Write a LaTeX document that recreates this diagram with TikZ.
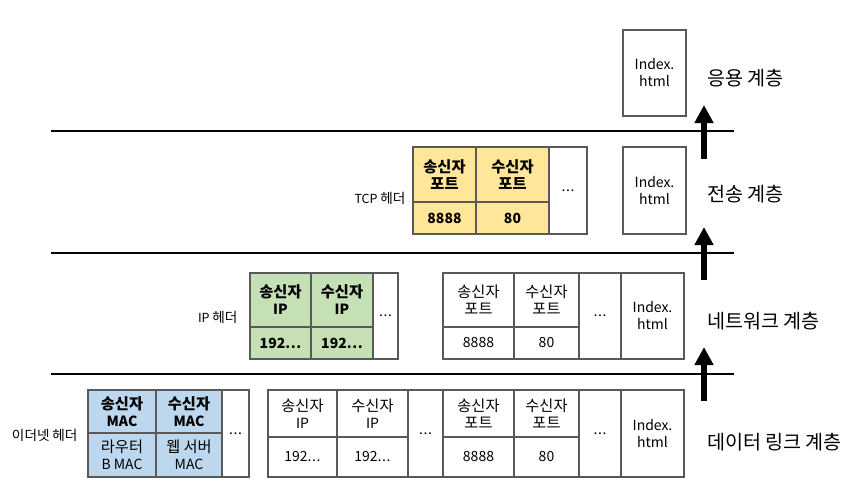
\documentclass[tikz,border=0pt]{standalone}
\usepackage{fontspec}
\setmainfont{Noto Sans CJK KR}
\newfontfamily\hangulfont{Noto Sans CJK KR}[Scale=1.09]
\XeTeXinterchartokenstate=1
\newXeTeXintercharclass\HangulClass
\count255="AC00
\loop
  \XeTeXcharclass\count255=\HangulClass
  \ifnum\count255<"D7A3 \advance\count255 by 1 \repeat
\XeTeXinterchartoks 0 \HangulClass = {\hangulfont}
\XeTeXinterchartoks 4095 \HangulClass = {\hangulfont}
\XeTeXinterchartoks \HangulClass 0 = {\rmfamily}
\XeTeXinterchartoks \HangulClass 4095 = {\rmfamily}
\usetikzlibrary{arrows.meta}
\definecolor{hdrYellow}{HTML}{FFE699}
\definecolor{hdrGreen}{HTML}{C5E0B4}
\definecolor{hdrBlue}{HTML}{BDD7EE}
\definecolor{cellLine}{HTML}{595959}
\begin{document}
\begin{tikzpicture}[x=1pt,y=-1pt]
\tikzset{
    pktCell/.style={rectangle,draw=cellLine,line width=1.2pt,anchor=north west,inner sep=0pt,outer sep=0pt,align=center,font=\fontsize{14}{17}\selectfont},
    pktBold/.style={pktCell,font=\fontsize{14}{17}\selectfont\bfseries},
    hdrName/.style={anchor=east,font=\fontsize{12.5}{15}\selectfont},
    layerName/.style={anchor=west,font=\fontsize{18}{21}\selectfont},
    layerLine/.style={line width=2.2pt},
    upArrow/.style={line width=5.5pt,-{Triangle[length=18pt,width=18pt]}},
}
\useasboundingbox (0,0) rectangle (859,487);

% layer borders
\coordinate (l1a) at (51,131); \coordinate (l1b) at (734,131);
\coordinate (l2a) at (51,253); \coordinate (l2b) at (734,253);
\coordinate (l3a) at (51,374); \coordinate (l3b) at (734,374);
\draw[layerLine] (l1a) -- (l1b);
\draw[layerLine] (l2a) -- (l2b);
\draw[layerLine] (l3a) -- (l3b);

% payload boxes
\foreach \n/\x/\y/\h in {appData/623/30/86, tcpData/623/147/87, ipData/621/273/86, ethData/621/390/87} {
    \node[pktCell,minimum width=63pt,minimum height=\h pt] (\n) at (\x,\y) {Index.\\html};
}

% "..." boxes
\foreach \n/\x/\y/\w/\h in {
    tcpEtc/549/147/38/87, ipEtc/373/273/25/86, ipTcpEtc/579/273/42/86,
    ethEtc/222/390/27/87, ethIpEtc/408/390/35/87, ethTcpEtc/579/390/42/87
} {
    \node[pktCell,minimum width=\w pt,minimum height=\h pt] (\n) at (\x,\y) {.\kern0.6pt.\kern0.6pt.};
}

% transport layer
\foreach \n/\x/\y/\w/\h/\a/\b in {tcpSrc/413/147/63/55/송신자/포트, tcpDst/476/147/73/55/수신자/포트} {
    \node[pktBold,fill=hdrYellow,minimum width=\w pt,minimum height=\h pt] (\n) at (\x,\y) {\a\\\b};
}
\foreach \n/\x/\y/\w/\h/\t in {tcpSrcV/413/202/63/32/8888, tcpDstV/476/202/73/32/80} {
    \node[pktBold,fill=hdrYellow,minimum width=\w pt,minimum height=\h pt] (\n) at (\x,\y) {\t};
}

% network layer
\foreach \n/\x/\y/\w/\h/\a/\b in {ipSrc/250/273/61/54/송신자/IP, ipDst/311/273/62/54/수신자/IP} {
    \node[pktBold,fill=hdrGreen,minimum width=\w pt,minimum height=\h pt] (\n) at (\x,\y) {\a\\\b};
}
\foreach \n/\x/\y/\w/\h in {ipSrcV/250/327/61/32, ipDstV/311/327/62/32} {
    \node[pktBold,fill=hdrGreen,minimum width=\w pt,minimum height=\h pt] (\n) at (\x,\y) {192.\kern0.6pt.\kern0.6pt.};
}
\foreach \n/\x/\y/\w/\h/\a/\b in {ipTcpSrc/443/273/71/54/송신자/포트, ipTcpDst/514/273/65/54/수신자/포트} {
    \node[pktCell,minimum width=\w pt,minimum height=\h pt] (\n) at (\x,\y) {\a\\\b};
}
\foreach \n/\x/\y/\w/\h/\t in {ipTcpSrcV/443/327/71/32/8888, ipTcpDstV/514/327/65/32/80} {
    \node[pktCell,minimum width=\w pt,minimum height=\h pt] (\n) at (\x,\y) {\t};
}

% data link layer
\foreach \n/\x/\y/\w/\h/\a/\b in {ethSrc/88/390/68/43/송신자/MAC, ethDst/156/390/66/43/수신자/MAC} {
    \node[pktBold,fill=hdrBlue,minimum width=\w pt,minimum height=\h pt] (\n) at (\x,\y) {\a\\\b};
}
\foreach \n/\x/\y/\w/\h/\a/\b in {ethSrcV/88/433/68/44/라우터/B MAC, ethDstV/156/433/66/44/웹 서버/MAC} {
    \node[pktCell,fill=hdrBlue,minimum width=\w pt,minimum height=\h pt] (\n) at (\x,\y) {\a\\\b};
}
\foreach \n/\x/\y/\w/\h/\a/\b in {
    ethIpSrc/268/390/69/47/송신자/IP, ethIpDst/337/390/71/47/수신자/IP,
    ethTcpSrc/443/390/71/47/송신자/포트, ethTcpDst/514/390/65/47/수신자/포트
} {
    \node[pktCell,minimum width=\w pt,minimum height=\h pt] (\n) at (\x,\y) {\a\\\b};
}
\foreach \n/\x/\y/\w/\h in {ethIpSrcV/268/437/69/40, ethIpDstV/337/437/71/40} {
    \node[pktCell,minimum width=\w pt,minimum height=\h pt] (\n) at (\x,\y) {192.\kern0.6pt.\kern0.6pt.};
}
\foreach \n/\x/\y/\w/\h/\t in {ethTcpSrcV/443/437/71/40/8888, ethTcpDstV/514/437/65/40/80} {
    \node[pktCell,minimum width=\w pt,minimum height=\h pt] (\n) at (\x,\y) {\t};
}

% header names
\node[hdrName] (tcpHdr) at (409,198) {TCP 헤더};
\node[hdrName] (ipHdr) at (241,317) {IP 헤더};
\node[hdrName] (ethHdr) at (81,435) {이더넷 헤더};

% layer names
\node[layerName] (appLayer) at (704,78) {응용 계층};
\node[layerName] (tcpLayer) at (704,194) {전송 계층};
\node[layerName] (ipLayer) at (704,321) {네트워크 계층};
\node[layerName] (ethLayer) at (704,442) {데이터 링크 계층};

% arrows between layers
\coordinate (up1s) at (704,159); \coordinate (up1e) at (704,105);
\coordinate (up2s) at (704,280); \coordinate (up2e) at (704,227);
\coordinate (up3s) at (704,401); \coordinate (up3e) at (704,347);
\draw[upArrow] (up1s) -- (up1e);
\draw[upArrow] (up2s) -- (up2e);
\draw[upArrow] (up3s) -- (up3e);
\end{tikzpicture}
\end{document}
